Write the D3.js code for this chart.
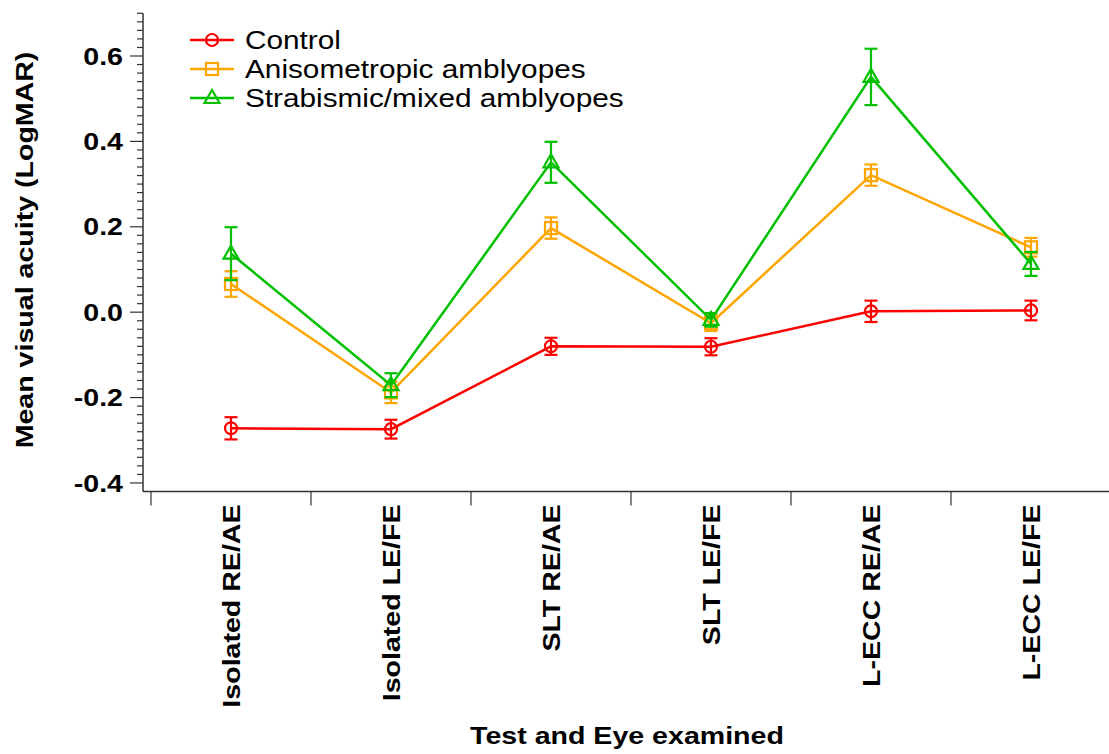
<!DOCTYPE html>
<html>
<head>
<meta charset="utf-8">
<script src="https://cdn.jsdelivr.net/npm/d3@7"></script>
<style>
  body { margin: 0; background: #fff; }
  svg { display: block; font-family: "Liberation Sans", Arial, Helvetica, sans-serif; }
  .tick-label { font-weight: bold; font-size: 24px; fill: #000; }
  .axis-title { font-weight: bold; font-size: 24px; fill: #000; }
  .legend-label { font-size: 25px; fill: #000; }
</style>
</head>
<body>
<script>
var categories = ["Isolated RE/AE", "Isolated LE/FE", "SLT RE/AE", "SLT LE/FE", "L-ECC RE/AE", "L-ECC LE/FE"];
var seriesNames = ["Control", "Anisometropic amblyopes", "Strabismic/mixed amblyopes"];
var controlMean = [-0.272, -0.274, -0.080, -0.081, 0.002, 0.004];
var controlErr = [0.026, 0.022, 0.020, 0.020, 0.025, 0.023];
var anisoMean = [0.066, -0.188, 0.197, -0.026, 0.321, 0.152];
var anisoErr = [0.030, 0.025, 0.025, 0.018, 0.025, 0.022];
var strabMean = [0.137, -0.171, 0.351, -0.018, 0.551, 0.113];
var strabErr = [0.062, 0.028, 0.048, 0.016, 0.066, 0.028];
var yMajorTicks = [-0.4, -0.2, 0.0, 0.2, 0.4, 0.6];

var W = 1109, H = 754;
var colors = ["#ff0000", "#ffa500", "#00c000"];
var shapes = ["circle", "square", "triangle"];
var wide = 1.19; // the original font is a bit wider than Arial

var svg = d3.select("body").append("svg").attr("width", W).attr("height", H);

var x = d3.scaleBand().domain(categories).range([151, 1111]);
var y = d3.scaleLinear().domain([-0.42, 0.70]).range([491.5, 13.3]);

var axisX0 = 143, axisY0 = 491.5;

function stretch(sel, f) {
  sel.each(function () {
    var len = this.getComputedTextLength();
    d3.select(this).attr("textLength", len * f).attr("lengthAdjust", "spacingAndGlyphs");
  });
}

// y axis line and ticks
svg.append("line")
  .attr("x1", axisX0).attr("x2", axisX0)
  .attr("y1", y(0.70)).attr("y2", axisY0)
  .attr("stroke", "#333").attr("stroke-width", 1.5);

var minorTicks = d3.range(-20, 36).map(function (i) { return i * 0.02; });
svg.selectAll("line.ymin").data(minorTicks).enter().append("line")
  .attr("class", "ymin")
  .attr("x1", function (d) { return Math.abs(Math.round(d * 50) % 10) === 0 ? axisX0 - 13 : axisX0 - 6; })
  .attr("x2", axisX0)
  .attr("y1", function (d) { return y(d); })
  .attr("y2", function (d) { return y(d); })
  .attr("stroke", "#333").attr("stroke-width", 1.2);

var ylab = svg.selectAll("text.ylab").data(yMajorTicks).enter().append("text")
  .attr("class", "tick-label ylab")
  .attr("x", 123)
  .attr("y", function (d) { return y(d); })
  .attr("dy", "0.36em")
  .attr("text-anchor", "end")
  .text(function (d) { return d3.format(".1f")(d).replace("−", "-"); });
stretch(ylab, wide);

var ytitle = svg.append("text")
  .attr("class", "axis-title")
  .attr("transform", "translate(33,250) rotate(-90)")
  .attr("text-anchor", "middle")
  .text("Mean visual acuity (LogMAR)");
stretch(ytitle, wide);

// x axis line and ticks
svg.append("line")
  .attr("x1", axisX0).attr("x2", W)
  .attr("y1", axisY0).attr("y2", axisY0)
  .attr("stroke", "#333").attr("stroke-width", 1.5);

svg.selectAll("line.xt").data(categories).enter().append("line")
  .attr("class", "xt")
  .attr("x1", function (d) { return x(d); })
  .attr("x2", function (d) { return x(d); })
  .attr("y1", axisY0).attr("y2", axisY0 + 14)
  .attr("stroke", "#333").attr("stroke-width", 1.2);

var xlab = svg.selectAll("text.xlab").data(categories).enter().append("text")
  .attr("class", "tick-label xlab")
  .attr("transform", function (d) {
    return "translate(" + (x(d) + x.bandwidth() / 2) + "," + (axisY0 + 13) + ") rotate(-90)";
  })
  .attr("dy", "0.36em")
  .attr("text-anchor", "end")
  .text(function (d) { return d; });
stretch(xlab, wide);

var xtitle = svg.append("text")
  .attr("class", "axis-title")
  .attr("x", 627).attr("y", 744)
  .attr("text-anchor", "middle")
  .text("Test and Eye examined");
stretch(xtitle, wide);

// series
var series = [
  { name: seriesNames[0], mean: controlMean, err: controlErr },
  { name: seriesNames[1], mean: anisoMean, err: anisoErr },
  { name: seriesNames[2], mean: strabMean, err: strabErr }
];

function drawMarker(g, shape, cx, cy, color) {
  if (shape === "circle") {
    g.append("circle").attr("cx", cx).attr("cy", cy).attr("r", 6)
      .attr("fill", "none").attr("stroke", color).attr("stroke-width", 2.2);
  } else if (shape === "square") {
    g.append("rect").attr("x", cx - 6).attr("y", cy - 6).attr("width", 12).attr("height", 12)
      .attr("fill", "none").attr("stroke", color).attr("stroke-width", 2.2);
  } else {
    g.append("path")
      .attr("d", "M" + cx + "," + (cy - 8) + "L" + (cx + 7.5) + "," + (cy + 5) + "L" + (cx - 7.5) + "," + (cy + 5) + "Z")
      .attr("fill", "none").attr("stroke", color).attr("stroke-width", 2.2);
  }
}

var line = d3.line()
  .x(function (d, i) { return x(categories[i]) + x.bandwidth() / 2; })
  .y(function (d) { return y(d); });

series.forEach(function (s, k) {
  var g = svg.append("g");
  g.append("path").attr("d", line(s.mean))
    .attr("fill", "none").attr("stroke", colors[k]).attr("stroke-width", 2.5);
  s.mean.forEach(function (m, i) {
    var cx = x(categories[i]) + x.bandwidth() / 2;
    var yt = y(m + s.err[i]), yb = y(m - s.err[i]);
    g.append("line").attr("x1", cx).attr("x2", cx).attr("y1", yt).attr("y2", yb)
      .attr("stroke", colors[k]).attr("stroke-width", 2.2);
    [yt, yb].forEach(function (yy) {
      g.append("line").attr("x1", cx - 6.5).attr("x2", cx + 6.5).attr("y1", yy).attr("y2", yy)
        .attr("stroke", colors[k]).attr("stroke-width", 2.2);
    });
    drawMarker(g, shapes[k], cx, y(m), colors[k]);
  });
});

// legend
var legend = svg.append("g");
seriesNames.forEach(function (name, k) {
  var ly = 40 + k * 29;
  legend.append("line").attr("x1", 190).attr("x2", 234).attr("y1", ly).attr("y2", ly)
    .attr("stroke", colors[k]).attr("stroke-width", 2.5);
  drawMarker(legend, shapes[k], 212, ly, colors[k]);
  var t = legend.append("text").attr("class", "legend-label")
    .attr("x", 245).attr("y", ly).attr("dy", "0.36em")
    .text(name);
  stretch(t, wide);
});
</script>
</body>
</html>
